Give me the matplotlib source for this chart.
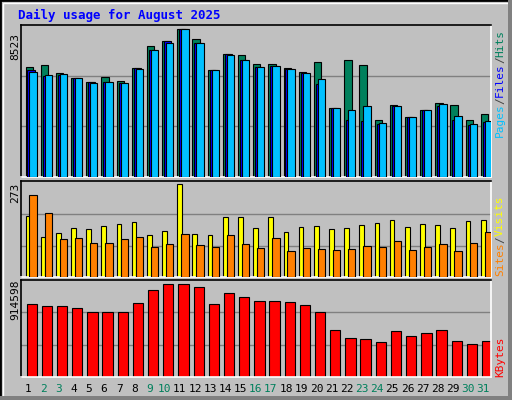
import matplotlib
matplotlib.use("Agg")
import matplotlib.pyplot as plt
import numpy as np
from matplotlib.patches import Rectangle

days = list(range(1, 32))
weekend = [2, 3, 9, 10, 16, 17, 23, 24, 30, 31]

def conv(ys, bottom, top, vmax):
    return [vmax * (bottom - y) / (bottom - top) for y in ys]

hits_px = [201,196,219,234,246,231,243,204,139,124,88,118,210,162,165,192,192,204,216,186,324,180,195,360,315,351,330,309,315,360,342]
files_px = [210,228,224,234,246,246,249,204,150,124,88,130,210,162,180,201,198,207,219,252,324,360,363,372,318,351,330,318,360,375,366]
pages_px = [216,225,222,234,249,246,249,207,150,129,88,129,210,165,180,201,198,207,219,237,324,330,318,369,318,351,330,312,348,372,363]
visits_px = [121,184,172,157,160,151,145,139,178,166,28,175,178,124,124,157,124,169,154,151,160,157,148,142,133,154,145,148,157,136,133]
sites_px = [61,112,190,187,202,202,190,184,214,205,175,208,214,178,205,217,187,226,217,220,223,220,211,214,196,223,214,205,226,202,169]
kbytes_px = [388,394,394,400,412,412,412,385,346,328,328,337,388,355,367,379,379,382,391,412,463,487,490,499,466,481,472,463,496,505,496]

hits = conv(hits_px, 530, 88, 8523)
files = conv(files_px, 530, 88, 8523)
pages = conv(pages_px, 530, 88, 8523)
visits = conv(visits_px, 304, 28, 273)
sites = conv(sites_px, 304, 28, 273)
kbytes = conv(kbytes_px, 601, 328, 914598)

W, H = 512, 400
fig = plt.figure(figsize=(W/100, H/100), dpi=100)
fig.patch.set_facecolor("#C0C0C0")
fig.patches.append(Rectangle((0, 0), 1, 1, transform=fig.transFigure, fill=False, ec="black", lw=2))
fig.patches.append(Rectangle((3/W, 3/H), 1-6/W, 1-6/H, transform=fig.transFigure, fill=False, ec="white", lw=1))
fig.patches.append(Rectangle((508/W, 3/H), 4/W, 1, transform=fig.transFigure, fc="#808080", ec="none"))
fig.patches.append(Rectangle((0, 0), 1, 4/H, transform=fig.transFigure, fc="#808080", ec="none"))

def mkax(top, bottom):
    ax = fig.add_axes([20.5/W, 1-bottom/H, (491-20.5)/W, (bottom-top)/H])
    ax.set_facecolor("#C0C0C0")
    for s in ax.spines.values():
        s.set_color("white"); s.set_linewidth(1.2)
    ax.spines["top"].set_color("black"); ax.spines["left"].set_color("black")
    ax.set_xlim(0.5, 31.5)
    ax.set_xticks([]); ax.set_yticks([])
    return ax

x = np.array(days)
ec = dict(edgecolor="black", linewidth=0.8)

ax1 = mkax(25, 177)
top1 = 8523 * 1.03
ax1.set_ylim(0, top1)
for g in (top1/3, 2*top1/3):
    ax1.axhline(g, color="#808080", lw=1, zorder=0)
ax1.bar(x-0.17, hits, width=0.48, align="edge", color="#00805C", zorder=2, **ec)
ax1.bar(x-0.04, files, width=0.48, align="edge", color="#0000FF", zorder=3, **ec)
ax1.bar(x+0.09, pages, width=0.48, align="edge", color="#00C0FF", zorder=4, **ec)
fig.text(15/W, 1-46/H, "8523", rotation=90, ha="center", va="center", fontsize=8, family="DejaVu Sans Mono")

ax2 = mkax(180.7, 277)
top2 = 273 * 287/276
ax2.set_ylim(0, top2)
for g in (90, 187):
    ax2.axhline(g, color="#808080", lw=1, zorder=0)
ax2.bar(x-0.17, visits, width=0.31, align="edge", color="#FFFF00", zorder=2, **ec)
ax2.bar(x+0.09, sites, width=0.48, align="edge", color="#FF8000", zorder=3, **ec)
fig.text(15/W, 1-193/H, "273", rotation=90, ha="center", va="center", fontsize=8, family="DejaVu Sans Mono")

ax3 = mkax(280, 377)
top3 = 914598 * 284/273
ax3.set_ylim(0, top3)
for g in (top3/3, 2*top3/3):
    ax3.axhline(g, color="#808080", lw=1, zorder=0)
ax3.bar(x-0.1, kbytes, width=0.68, align="edge", color="#FF0000", zorder=2, **ec)
fig.text(15/W, 1-300/H, "914598", rotation=90, ha="center", va="center", fontsize=8, family="DejaVu Sans Mono")

for d in days:
    xf = (20.5 + (d-0.5)*(470.5/31)) / W
    fig.text(xf, 1-389/H, str(d), ha="center", va="center", fontsize=8,
             color="#00805C" if d in weekend else "black", family="DejaVu Sans Mono")

fig.text(18/W, 1-15/H, "Daily usage for August 2025", color="#0000FF", fontsize=9,
         fontweight="bold", family="DejaVu Sans Mono", va="center", ha="left")

CH = 8 * 0.602 * 100 / 72  # px per mono char at 8pt

def rlabel(y0, parts):
    yy = y0
    for p, c in parts:
        fig.text(500/W, 1-yy/H, p, rotation=90, color=c, fontsize=8, family="DejaVu Sans Mono",
                 ha="center", va="bottom", rotation_mode="anchor" if False else "default")
        yy -= len(p) * CH

rlabel(137, [("Pages", "#00C0FF"), ("/", "#404040"), ("Files", "#0000FF"), ("/", "#404040"), ("Hits", "#00805C")])
rlabel(276, [("Sites", "#FF8000"), ("/", "#404040"), ("Visits", "#FFFF00")])
rlabel(377, [("KBytes", "#FF0000")])

fig.savefig("out.png", dpi=100, facecolor=fig.get_facecolor())
